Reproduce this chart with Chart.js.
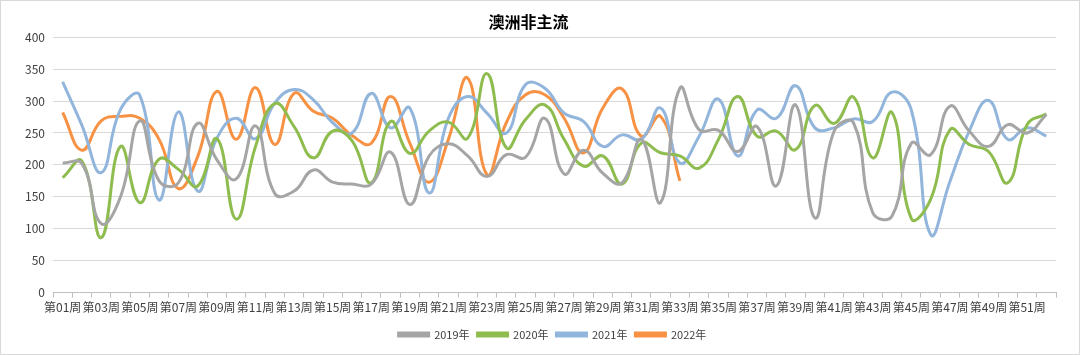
<!DOCTYPE html>
<html>
<head>
<meta charset="utf-8">
<script src="https://cdn.jsdelivr.net/npm/chart.js@4"></script>
<style>
html,body{margin:0;padding:0;background:#fff;}
#wrap{width:1080px;height:355px;box-sizing:border-box;border:1px solid #d9d9d9;position:relative;}
canvas{display:block;}
</style>
</head>
<body>
<div id="wrap"><canvas id="c" width="1078" height="353"></canvas></div>
<script>
const weeks = [];
for (let i = 1; i <= 52; i++) weeks.push('第' + String(i).padStart(2, '0') + '周');

const s2019 = [203,202,108,150,269,175,172,265,208,178,261,155,159,192,173,170,170,220,138,214,233,214,182,216,212,273,186,223,187,172,240,141,320,255,254,221,260,167,294,117,253,266,125,120,234,216,292,253,229,263,250,279];
const s2020 = [180,206,86,229,141,209,193,167,241,115,229,296,260,211,253,238,172,268,218,253,267,242,343,227,271,294,240,198,214,170,234,219,214,195,240,307,245,253,224,293,265,306,211,282,116,146,255,232,221,172,263,280];
const s2021 = [330,262,188,287,309,145,283,159,242,273,241,297,318,302,266,250,312,258,289,156,273,307,281,250,326,320,281,268,229,247,240,289,203,245,303,214,286,273,324,258,258,272,268,314,286,91,174,253,301,240,258,245];
const s2022 = [282,223,269,276,273,240,163,213,315,240,321,232,312,284,273,246,234,307,234,173,240,336,185,266,310,310,273,219,289,319,245,276,175];

const seriesNames = ['2019年','2020年','2021年','2022年'];
const colors = ['#a5a5a5','#8fbc4f','#92b5dc','#f79244'];
const yTicks = [0,50,100,150,200,250,300,350,400];

const font = "'Noto Sans CJK SC', 'Noto Sans', sans-serif";

function ds(label, data, color) {
  return {label, data, borderColor: color, backgroundColor: color, borderWidth: 3,
    pointRadius: 0, pointHoverRadius: 0, tension: 0.45, fill: false, spanGaps: false};
}

const shiftLegend = {
  id: 'shiftLegend',
  afterLayout(chart) {
    const lg = chart.legend;
    if (lg) { lg.left += 24; lg.right += 24; }
  }
};

new Chart(document.getElementById('c'), {
  type: 'line',
  data: {
    labels: weeks,
    datasets: [
      ds(seriesNames[0], s2019, colors[0]),
      ds(seriesNames[1], s2020, colors[1]),
      ds(seriesNames[2], s2021, colors[2]),
      ds(seriesNames[3], s2022, colors[3])
    ]
  },
  plugins: [shiftLegend],
  options: {
    responsive: false,
    animation: false,
    layout: {padding: {left: 0, right: 23, top: 9, bottom: 4}},
    plugins: {
      title: {display: true, text: '澳洲非主流', color: '#000', font: {family: font, size: 16, weight: 'bold'}, padding: {top: 2, bottom: 6}},
      legend: {position: 'bottom', labels: {color: '#404040', font: {family: font, size: 11}, boxWidth: 30, boxHeight: 3, padding: 8}},
      tooltip: {enabled: false}
    },
    scales: {
      x: {
        offset: true,
        afterFit: function(axis) { axis.height += 3; },
        grid: {display: true, drawOnChartArea: false, drawTicks: true, tickLength: 5, offset: true, color: '#bfbfbf'},
        border: {display: true, color: '#bfbfbf'},
        ticks: {autoSkip: false, maxRotation: 0, minRotation: 0, color: '#404040', font: {family: font, size: 12}, padding: 3,
          callback: function(v, i) { return i % 2 === 0 ? weeks[i] : ''; }}
      },
      y: {
        min: 0, max: 400,
        afterBuildTicks: function(axis) { axis.ticks = yTicks.map(v => ({value: v})); },
        afterFit: function(axis) { axis.width = 52; },
        grid: {color: '#d9d9d9', drawTicks: false},
        border: {display: false},
        ticks: {color: '#404040', font: {family: font, size: 12}, padding: 8}
      }
    }
  }
});
</script>
</body>
</html>
